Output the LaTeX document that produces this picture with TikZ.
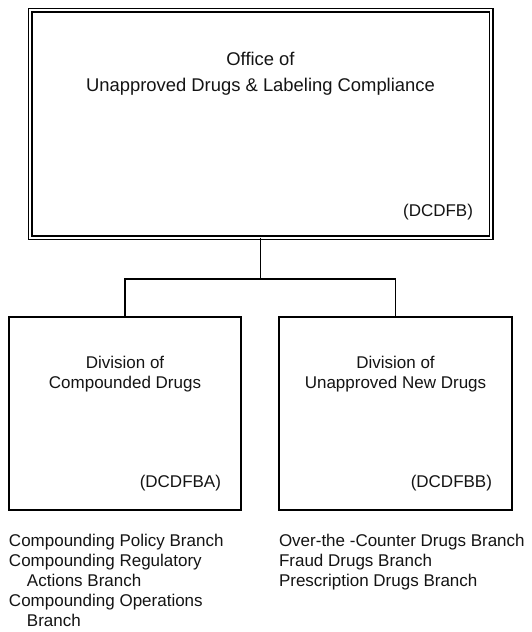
\documentclass[tikz,border=0pt]{standalone}
\usepackage{fontspec}
\setmainfont{Liberation Sans}
\begin{document}
\begin{tikzpicture}[x=1pt,y=-1pt,
  every node/.style={inner sep=0pt,outer sep=0pt},
  topbox/.style={draw=black,line width=1.5pt,double=white,double distance=2pt,minimum width=461pt,minimum height=227.5pt},
  divbox/.style={draw=black,line width=2pt,minimum height=193pt},
  conn/.style={draw=black,line width=1.8pt},
  bigtxt/.style={font=\fontsize{18.4}{22}\selectfont,text=black!92},
  txt/.style={font=\fontsize{17}{20}\selectfont,text=black!92}]
\useasboundingbox[fill=white] (0,0) rectangle (531,632);
% boxes
\node[topbox] (top) at (260.5,123.75) {};
\node[divbox,minimum width=232pt] (left) at (125,413.5) {};
\node[divbox,minimum width=233pt] (right) at (395.5,413.5) {};
% connectors
\draw[conn] (top.south) -- ++(0,41.5) coordinate (j);
\draw[conn] (left.north) |- (j) -| (right.north);
% top text
\node[bigtxt,anchor=base] (t1) at (260.5,65.5) {Office of};
\node[bigtxt,anchor=base] (t2) at (260.5,91.5) {Unapproved Drugs \& Labeling Compliance};
\node[txt,anchor=base east] (t3) at (473,216.5) {(DCDFB)};
% left division
\node[txt,anchor=base] (l1) at (125,368) {Division of};
\node[txt,anchor=base] (l2) at (125,388) {Compounded Drugs};
\node[txt,anchor=base east] (l3) at (221,487.5) {(DCDFBA)};
% right division
\node[txt,anchor=base] (r1) at (395.5,368) {Division of};
\node[txt,anchor=base] (r2) at (395.5,388) {Unapproved New Drugs};
\node[txt,anchor=base east] (r3) at (492,487.5) {(DCDFBB)};
% left branches
\node[txt,anchor=base west] (lb1) at (9,546) {Compounding Policy Branch};
\node[txt,anchor=base west] (lb2) at (9,566) {Compounding Regulatory};
\node[txt,anchor=base west] (lb3) at (27,586) {Actions Branch};
\node[txt,anchor=base west] (lb4) at (9,606) {Compounding Operations};
\node[txt,anchor=base west] (lb5) at (27,626) {Branch};
% right branches
\node[txt,anchor=base west] (rb1) at (279,546) {Over-the -Counter Drugs Branch};
\node[txt,anchor=base west] (rb2) at (279,566) {Fraud Drugs Branch};
\node[txt,anchor=base west] (rb3) at (279,586) {Prescription Drugs Branch};
\end{tikzpicture}
\end{document}
